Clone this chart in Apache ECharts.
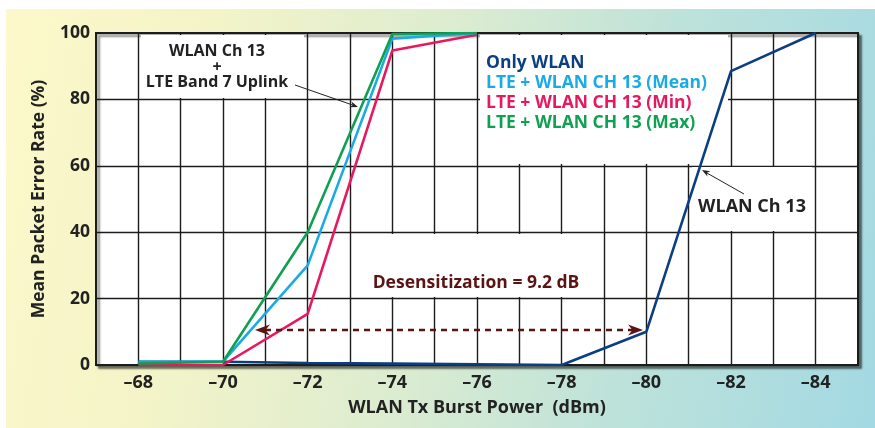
<!DOCTYPE html>
<html>
<head>
<meta charset="utf-8">
<script src="https://cdn.jsdelivr.net/npm/echarts@6/dist/echarts.min.js"></script>
<style>
html,body{margin:0;padding:0;background:#fff;}
#bg{position:absolute;left:6px;top:9px;width:869px;height:419px;
background:linear-gradient(100deg,#fcf8ca 0%,#f4f4c8 22%,#dcecd0 48%,#bde2da 72%,#a3d9e3 100%);}
#main{position:absolute;left:0;top:0;width:875px;height:428px;}
</style>
</head>
<body>
<div id="bg"></div>
<div id="main"></div>
<script>
// ---- data ----
const xPower   = [-68, -70, -72, -74, -76, -78, -80, -82, -84];
const onlyWlan = [1, 1, 0.6, 0.4, 0.2, 0, 10, 88.5, 100];
const ltePower = [-68, -70, -72, -74, -76];
const lteMean  = [1, 1, 30, 98.3, 100];
const lteMin   = [0, 0, 15.4, 94.7, 99.5];
const lteMax   = [0.5, 1, 40, 99.7, 100];
const xTickLabels = [-68, -70, -72, -74, -76, -78, -80, -82, -84];
const yTickLabels = [0, 20, 40, 60, 80, 100];
const seriesNames = ['Only WLAN', 'LTE + WLAN CH 13 (Mean)', 'LTE + WLAN CH 13 (Min)', 'LTE + WLAN CH 13 (Max)'];
const colors = {only:'#0b3f82', mean:'#1aabe4', min:'#e8185f', max:'#0fa052'};

const FONT = '"Open Sans", Lato, sans-serif';
const pairs = (xs, ys) => xs.map((x, i) => [x, ys[i]]);

const chart = echarts.init(document.getElementById('main'), null, {renderer:'canvas'});

function lineSeries(name, xs, ys, color){
  return {
    name, type:'line', data:pairs(xs, ys), symbol:'none', z:2,
    lineStyle:{color, width:2.6}, itemStyle:{color}
  };
}

const option = {
  backgroundColor:'transparent',
  animation:false,
  grid:{left:96, right:17, top:33, bottom:63, show:true, backgroundColor:'#fff',
        borderColor:'#1e1e1e', borderWidth:2,
        shadowColor:'rgba(0,0,0,0.45)', shadowBlur:2, shadowOffsetX:3, shadowOffsetY:3},
  xAxis:{
    type:'value', min:-85, max:-67, interval:1, inverse:true,
    axisLine:{show:false}, axisTick:{show:false},
    splitLine:{show:true, lineStyle:{color:'#1c1c1c', width:1.4}},
    axisLabel:{margin:9, fontSize:18, fontWeight:'bold', color:'#222', fontFamily:FONT,
      formatter:v => xTickLabels.includes(v) ? '\u2013' + Math.abs(v) : ''},
    name:'WLAN Tx Burst Power  (dBm)', nameLocation:'middle', nameGap:34,
    nameTextStyle:{fontSize:18, fontWeight:'bold', color:'#222', fontFamily:FONT}
  },
  yAxis:{
    type:'value', min:0, max:100, interval:20,
    axisLine:{show:false}, axisTick:{show:false},
    splitLine:{show:true, lineStyle:{color:'#1c1c1c', width:1.4}},
    axisLabel:{margin:6, fontSize:17.5, fontWeight:'bold', color:'#222', fontFamily:FONT,
      formatter:v => yTickLabels.includes(v) ? String(v) : ''},
    name:'Mean Packet Error Rate (%)', nameLocation:'middle', nameGap:48,
    nameTextStyle:{fontSize:17.5, fontWeight:'bold', color:'#222', fontFamily:FONT}
  },
  series:[
    lineSeries(seriesNames[0], xPower, onlyWlan, colors.only),
    lineSeries(seriesNames[2], ltePower, lteMin, colors.min),
    lineSeries(seriesNames[1], ltePower, lteMean, colors.mean),
    lineSeries(seriesNames[3], ltePower, lteMax, colors.max)
  ]
};
chart.setOption(option);

// ---- annotations ----
function arrowHead(tip, from, len, half, color, z){
  const dx = tip[0]-from[0], dy = tip[1]-from[1];
  const d = Math.hypot(dx, dy), ux = dx/d, uy = dy/d, px = -uy, py = ux;
  const bx = tip[0]-ux*len, by = tip[1]-uy*len;
  const nx = tip[0]-ux*len*0.7, ny = tip[1]-uy*len*0.7;
  return {type:'polygon', z, shape:{points:[tip, [bx+px*half, by+py*half], [nx, ny], [bx-px*half, by-py*half]]},
          style:{fill:color}};
}
function whiteBox(x1, y1, x2, y2){
  return {type:'rect', z:1, shape:{x:x1, y:y1, width:x2-x1, height:y2-y1}, style:{fill:'#fff'}};
}
function txt(text, x, y, opts){
  return {type:'text', z:10, x, y, style:Object.assign({text, font:'bold 17.5px ' + FONT, fill:'#222',
    textAlign:'center', textVerticalAlign:'middle'}, opts || {})};
}

const desY = 330, desL = 255, desR = 643, desColor = '#5b1414';
const LEG = 'bold 17.5px ' + FONT;
const graphics = [
  whiteBox(141, 35, 304, 98),
  whiteBox(480, 35, 728, 164),
  whiteBox(692, 167, 812, 231),
  whiteBox(354, 234, 600, 297),
  txt('WLAN Ch 13\n+\nLTE Band 7 Uplink', 217, 67, {lineHeight:15.5, font:'bold 16px ' + FONT}),
  txt(seriesNames[0], 486, 63, {textAlign:'left', font:LEG, fill:colors.only}),
  txt(seriesNames[1], 486, 83, {textAlign:'left', font:LEG, fill:colors.mean}),
  txt(seriesNames[2], 486, 103, {textAlign:'left', font:LEG, fill:colors.min}),
  txt(seriesNames[3], 486, 123, {textAlign:'left', font:LEG, fill:colors.max}),
  txt('WLAN Ch 13', 752, 207, {font:'bold 18px ' + FONT}),
  txt('Desensitization = 9.2 dB', 476, 283, {fill:desColor}),
  {type:'line', z:10, shape:{x1:295, y1:85, x2:354, y2:105.5}, style:{stroke:'#222', lineWidth:1}},
  arrowHead([358, 107], [295, 85], 8, 3, '#222', 10),
  {type:'line', z:10, shape:{x1:744, y1:194, x2:706, y2:172.5}, style:{stroke:'#222', lineWidth:1}},
  arrowHead([702, 170], [744, 194], 8, 3, '#222', 10),
  {type:'line', z:10, shape:{x1:desL+10, y1:desY, x2:desR-10, y2:desY},
   style:{stroke:desColor, lineWidth:2.5, lineDash:[6,5]}},
  arrowHead([desL, desY], [desR, desY], 15, 5.5, desColor, 10),
  arrowHead([desR, desY], [desL, desY], 15, 5.5, desColor, 10)
];
chart.setOption({graphic:graphics});
</script>
</body>
</html>
